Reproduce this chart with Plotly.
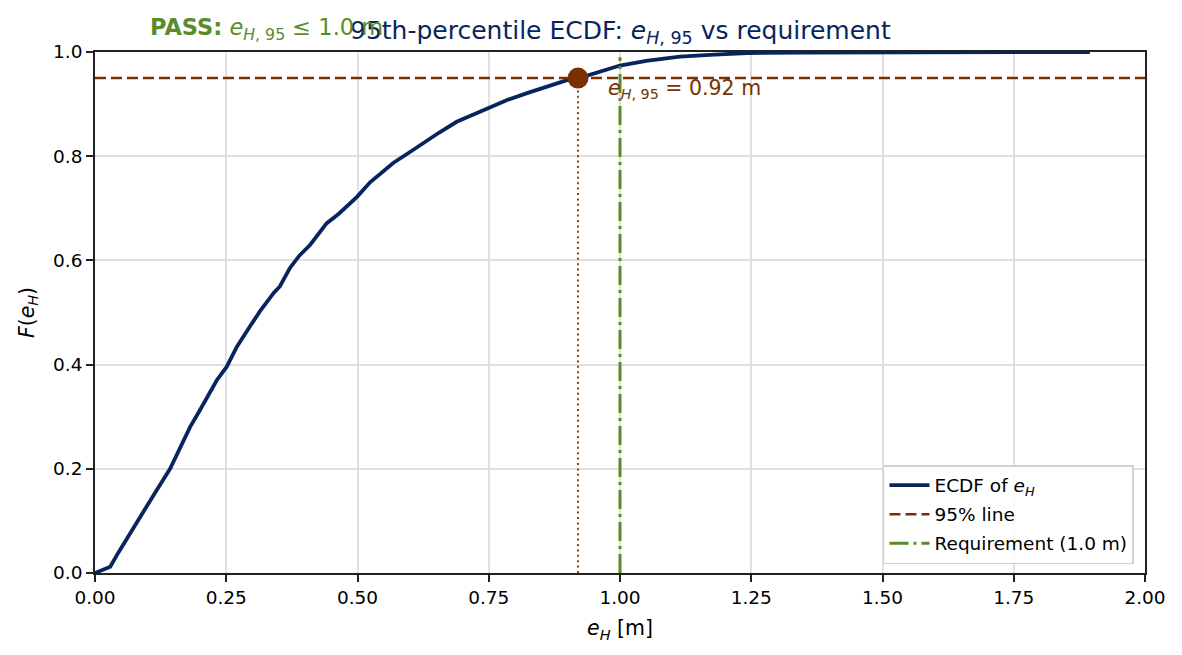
import plotly.graph_objects as go

# ECDF
e_h = [0, 0.012, 0.029, 0.045, 0.067, 0.09, 0.118, 0.143, 0.165, 0.181, 0.2, 0.215,
       0.232, 0.251, 0.270, 0.295, 0.314, 0.340, 0.352, 0.371, 0.390, 0.410, 0.441,
       0.465, 0.486, 0.499, 0.524, 0.545, 0.568, 0.6, 0.625, 0.655, 0.689, 0.72, 0.752,
       0.785, 0.823, 0.86, 0.899, 0.922, 0.96, 1.0, 1.05, 1.114, 1.18, 1.242, 1.35,
       1.495, 1.65, 1.895]
F = [0, 0.005, 0.012, 0.04, 0.077, 0.115, 0.16, 0.20, 0.245, 0.28, 0.313, 0.34,
     0.370, 0.396, 0.434, 0.473, 0.502, 0.537, 0.550, 0.585, 0.610, 0.630, 0.671,
     0.69, 0.710, 0.722, 0.75, 0.768, 0.787, 0.808, 0.825, 0.845, 0.866, 0.88, 0.894,
     0.908, 0.921, 0.934, 0.946, 0.95, 0.962, 0.974, 0.983, 0.991, 0.995, 0.998, 0.999,
     0.9995, 0.9998, 1.0]

e_h95 = 0.92
p95 = 0.95
requirement = 1.0
req_top = 0.99
x_range = [0, 2]
y_range = [0, 1]
x_ticks = [0, 0.25, 0.5, 0.75, 1.0, 1.25, 1.5, 1.75, 2.0]
y_ticks = [0, 0.2, 0.4, 0.6, 0.8, 1.0]

NAVY = "#08245e"
BROWN = "#7a3100"
GREEN = "#5a8c2c"
FONT = "DejaVu Sans"
TICK = 18.5
LABEL = 20.5

fig = go.Figure()
fig.add_trace(go.Scatter(x=e_h, y=F, mode="lines", line=dict(color=NAVY, width=3.8),
                         name="ECDF of <i>e<sub>H</sub></i>", legendgroup="a"))
fig.add_trace(go.Scatter(x=x_range, y=[p95, p95], mode="lines",
                         line=dict(color=BROWN, width=2.6, dash="11px,5px"),
                         name="95% line", legendgroup="b"))
fig.add_trace(go.Scatter(x=[requirement, requirement], y=[0, req_top], mode="lines",
                         line=dict(color=GREEN, width=3, dash="19px,5px,3px,5px"),
                         name="Requirement (1.0 m)", legendgroup="c"))
fig.add_trace(go.Scatter(x=[e_h95, e_h95], y=[0, p95], mode="lines",
                         line=dict(color=BROWN, width=1.8, dash="2px,3.4px"), showlegend=False))
fig.add_trace(go.Scatter(x=[e_h95], y=[p95], mode="markers",
                         marker=dict(color=BROWN, size=21), showlegend=False))

axis_common = dict(showgrid=True, gridcolor="#e0e0e0", gridwidth=1.5, zeroline=False,
                   showline=True, linecolor="#222222", linewidth=1.6, mirror=True,
                   ticks="outside", ticklen=7, tickwidth=1.6, tickcolor="#222222",
                   tickfont=dict(size=TICK, family=FONT, color="black"))

fig.update_layout(
    width=1182, height=655,
    margin=dict(l=95, r=37, t=52, b=82),
    paper_bgcolor="white", plot_bgcolor="white",
    font=dict(family=FONT, size=TICK, color="black"),
    showlegend=True,
    legend=dict(x=0.9895, y=0.017, xanchor="right", yanchor="bottom",
                bgcolor="rgba(255,255,255,0.85)", bordercolor="#d0d0d0", borderwidth=1.5,
                font=dict(size=18.5, family=FONT), traceorder="grouped", tracegroupgap=2,
                itemwidth=40),
    xaxis=dict(range=x_range, tickvals=x_ticks, tickformat=".2f",
               title=dict(text="<i>e<sub>H</sub></i> [m]", font=dict(size=LABEL), standoff=14),
               **axis_common),
    yaxis=dict(range=y_range, tickvals=y_ticks, tickformat=".1f",
               title=dict(text="<i>F</i>(<i>e<sub>H</sub></i>)", font=dict(size=LABEL), standoff=13),
               **axis_common),
)

fig.add_annotation(x=0.5, y=1, xref="paper", yref="paper", xanchor="center", yanchor="bottom",
                   yshift=2, showarrow=False,
                   text="95th-percentile ECDF: <i>e</i><sub><i>H</i>, 95</sub> vs requirement",
                   font=dict(size=25, color=NAVY, family=FONT))
fig.add_annotation(x=0.0505, y=1, xref="paper", yref="paper", xanchor="left", yanchor="bottom",
                   yshift=6, showarrow=False,
                   text="<b>PASS:</b> <i>e</i><sub><i>H</i>, 95</sub> ≤ 1.0 m",
                   font=dict(size=22.5, color=GREEN, family=FONT))
fig.add_annotation(x=0.973, y=0.929, xref="x", yref="y", xanchor="left", yanchor="middle",
                   showarrow=False,
                   text="<i>e</i><sub><i>H</i>, 95</sub> = 0.92 m",
                   font=dict(size=20.5, color=BROWN, family=FONT))

fig.write_html("out.html")
